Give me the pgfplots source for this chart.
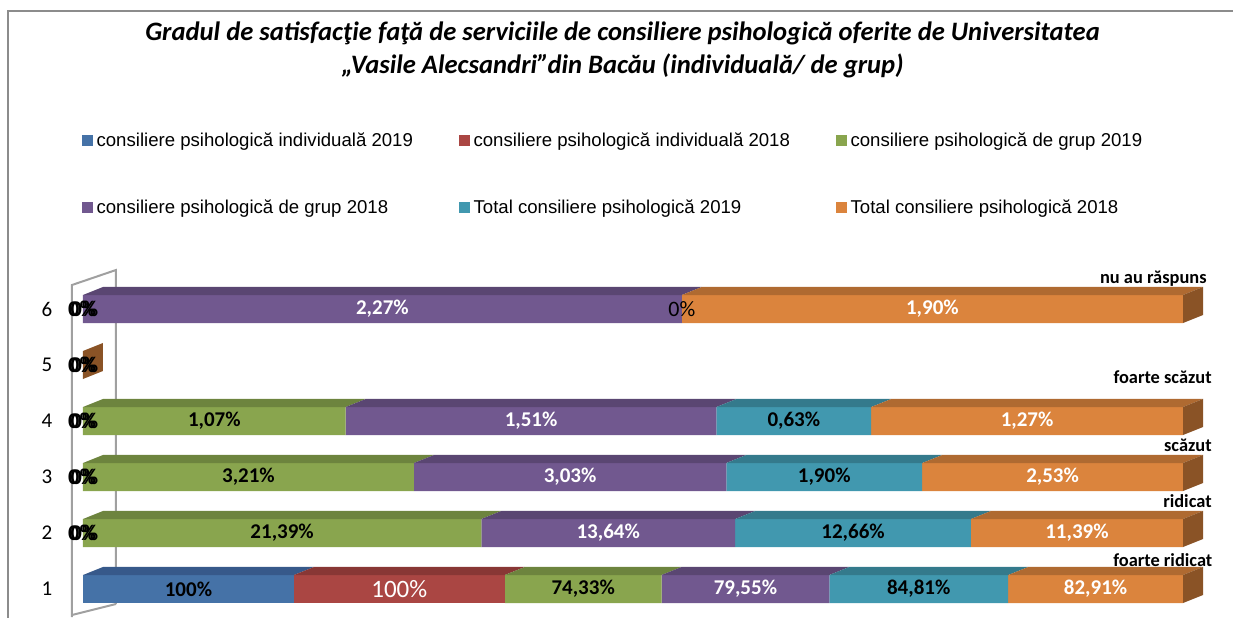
\documentclass[border=0pt]{standalone}
\usepackage{pgfplots}
\pgfplotsset{compat=1.18}
\usepackage{fontspec}
\setmainfont{Carlito}
\newfontfamily\arialf{Liberation Sans}
\definecolor{cblue}{HTML}{4572A7}
\definecolor{cred}{HTML}{AA4643}
\definecolor{cgreen}{HTML}{89A54E}
\definecolor{cpurple}{HTML}{71588F}
\definecolor{cteal}{HTML}{4198AF}
\definecolor{corange}{HTML}{DB843D}
\definecolor{tblue}{HTML}{37598A}
\definecolor{tred}{HTML}{883735}
\definecolor{tgreen}{HTML}{6D843E}
\definecolor{tpurple}{HTML}{5A4672}
\definecolor{tteal}{HTML}{347A8C}
\definecolor{torange}{HTML}{AF6A31}
\definecolor{sorange}{HTML}{8A5326}
\definecolor{wallc}{HTML}{A0A0A0}
\definecolor{framec}{HTML}{8C8C8C}
\begin{document}
\begin{tikzpicture}
\useasboundingbox (-41.5pt,0pt) rectangle (575pt,308.5pt);
\draw[framec, line width=1pt] (-37.25pt,-20pt) rectangle (650pt,302.75pt);
\draw[wallc, line width=1pt] (-5.5pt,0pt) -- (-5.5pt,166pt) -- (16.5pt,173.5pt) -- (16.5pt,6.5pt);
\draw[wallc, line width=1pt] (-5.5pt,1pt) -- (16.5pt,6.5pt);
\node[font=\bfseries\itshape\fontsize{13.3}{16}\selectfont, anchor=base, inner sep=0pt] at (269.75pt,288pt) {Gradul de satisfacţie faţă de serviciile de consiliere psihologică oferite de Universitatea};
\node[font=\bfseries\itshape\fontsize{13.3}{16}\selectfont, anchor=base, inner sep=0pt] at (269.75pt,271.5pt) {„Vasile Alecsandri”din Bacău (individuală/ de grup)};

% front bars (values normalised to 100% per row)
\begin{axis}[
  at={(0pt,0pt)}, anchor=south west,
  width=550pt, height=168pt, scale only axis,
  xmin=0, xmax=100, ymin=0.5, ymax=6.5,
  xbar stacked, bar width=14pt,
  axis line style={draw=none}, tick style={draw=none},
  xtick=\empty, ytick={1,2,3,4,5,6},
  /pgf/number format/assume math mode=true,
  yticklabel style={anchor=center, xshift=-18pt, font=\fontsize{10.5}{12}\selectfont},
  legend columns=3,
  legend image code/.code={\fill[#1] (0pt,-2.75pt) rectangle (5.5pt,2.75pt);},
  legend style={draw=none, fill=none, inner sep=0pt, outer sep=0pt,
    at={(-0.0009,1.4426)}, anchor=north west,
    font=\arialf\fontsize{9.3}{11}\selectfont,
    column sep=0pt, row sep=25.3pt,
    nodes={inner sep=0pt},
    /tikz/every odd column/.append style={column sep=1.8pt}},
]
\addplot[fill=cblue, draw=none] coordinates {(19.172,1) (0,2) (0,3) (0,4) (0,5) (0,6)};
\addlegendentry{\makebox[181.2pt][l]{consiliere psihologică individuală 2019}}
\addplot[fill=cred, draw=none] coordinates {(19.172,1) (0,2) (0,3) (0,4) (0,5) (0,6)};
\addlegendentry{\makebox[181.2pt][l]{consiliere psihologică individuală 2018}}
\addplot[fill=cgreen, draw=none] coordinates {(14.250,1) (36.205,2) (30.084,3) (23.884,4) (0,5) (0,6)};
\addlegendentry{\makebox[181.2pt][l]{consiliere psihologică de grup 2019}}
\addplot[fill=cpurple, draw=none] coordinates {(15.251,1) (23.087,2) (28.397,3) (33.705,4) (0,5) (54.436,6)};
\addlegendentry{\makebox[181.2pt][l]{consiliere psihologică de grup 2018}}
\addplot[fill=cteal, draw=none] coordinates {(16.260,1) (21.429,2) (17.807,3) (14.063,4) (0,5) (0,6)};
\addlegendentry{\makebox[181.2pt][l]{Total consiliere psihologică 2019}}
\addplot[fill=corange, draw=none] coordinates {(15.895,1) (19.279,2) (23.711,3) (28.348,4) (0,5) (45.564,6)};
\addlegendentry{\makebox[181.2pt][l]{Total consiliere psihologică 2018}}
\end{axis}

% 3D faces and labels
\begin{axis}[
  at={(0pt,0pt)}, anchor=south west,
  width=550pt, height=168pt, scale only axis,
  xmin=0, xmax=100, ymin=0.5, ymax=6.5,
  hide axis, clip=false,
]
% top faces
\addplot[fill=tblue, draw=none] coordinates {(0,1.25) (19.172,1.25) (20.990,1.3929) (1.818,1.3929)} --cycle;
\addplot[fill=tred, draw=none] coordinates {(19.172,1.25) (38.344,1.25) (40.162,1.3929) (20.990,1.3929)} --cycle;
\addplot[fill=tgreen, draw=none] coordinates {(38.344,1.25) (52.594,1.25) (54.412,1.3929) (40.162,1.3929)} --cycle;
\addplot[fill=tgreen, draw=none] coordinates {(0,2.25) (36.205,2.25) (38.023,2.3929) (1.818,2.3929)} --cycle;
\addplot[fill=tgreen, draw=none] coordinates {(0,3.25) (30.084,3.25) (31.902,3.3929) (1.818,3.3929)} --cycle;
\addplot[fill=tgreen, draw=none] coordinates {(0,4.25) (23.884,4.25) (25.702,4.3929) (1.818,4.3929)} --cycle;
\addplot[fill=tpurple, draw=none] coordinates {(52.594,1.25) (67.845,1.25) (69.663,1.3929) (54.412,1.3929)} --cycle;
\addplot[fill=tpurple, draw=none] coordinates {(36.205,2.25) (59.292,2.25) (61.110,2.3929) (38.023,2.3929)} --cycle;
\addplot[fill=tpurple, draw=none] coordinates {(30.084,3.25) (58.481,3.25) (60.299,3.3929) (31.902,3.3929)} --cycle;
\addplot[fill=tpurple, draw=none] coordinates {(23.884,4.25) (57.589,4.25) (59.407,4.3929) (25.702,4.3929)} --cycle;
\addplot[fill=tpurple, draw=none] coordinates {(0,6.25) (54.436,6.25) (56.254,6.3929) (1.818,6.3929)} --cycle;
\addplot[fill=tteal, draw=none] coordinates {(67.845,1.25) (84.105,1.25) (85.923,1.3929) (69.663,1.3929)} --cycle;
\addplot[fill=tteal, draw=none] coordinates {(59.292,2.25) (80.721,2.25) (82.539,2.3929) (61.110,2.3929)} --cycle;
\addplot[fill=tteal, draw=none] coordinates {(58.481,3.25) (76.288,3.25) (78.106,3.3929) (60.299,3.3929)} --cycle;
\addplot[fill=tteal, draw=none] coordinates {(57.589,4.25) (71.652,4.25) (73.470,4.3929) (59.407,4.3929)} --cycle;
\addplot[fill=torange, draw=none] coordinates {(84.105,1.25) (100,1.25) (101.818,1.3929) (85.923,1.3929)} --cycle;
\addplot[fill=torange, draw=none] coordinates {(80.721,2.25) (100,2.25) (101.818,2.3929) (82.539,2.3929)} --cycle;
\addplot[fill=torange, draw=none] coordinates {(76.288,3.25) (100,3.25) (101.818,3.3929) (78.106,3.3929)} --cycle;
\addplot[fill=torange, draw=none] coordinates {(71.652,4.25) (100,4.25) (101.818,4.3929) (73.470,4.3929)} --cycle;
\addplot[fill=torange, draw=none] coordinates {(54.436,6.25) (100,6.25) (101.818,6.3929) (56.254,6.3929)} --cycle;
% side faces
\addplot[fill=sorange, draw=none] coordinates {(100,0.75) (100,1.25) (101.818,1.3929) (101.818,0.8929)} --cycle;
\addplot[fill=sorange, draw=none] coordinates {(100,1.75) (100,2.25) (101.818,2.3929) (101.818,1.8929)} --cycle;
\addplot[fill=sorange, draw=none] coordinates {(100,2.75) (100,3.25) (101.818,3.3929) (101.818,2.8929)} --cycle;
\addplot[fill=sorange, draw=none] coordinates {(100,3.75) (100,4.25) (101.818,4.3929) (101.818,3.8929)} --cycle;
\addplot[fill=sorange, draw=none] coordinates {(0,4.75) (0,5.25) (1.818,5.3929) (1.818,4.8929)} --cycle;
\addplot[fill=sorange, draw=none] coordinates {(100,5.75) (100,6.25) (101.818,6.3929) (101.818,5.8929)} --cycle;

% labels: black bold
\addplot[only marks, mark=none, point meta=explicit symbolic,
  nodes near coords={\pgfplotspointmeta\%},
  nodes near coords style={anchor=center, text=black, font=\bfseries\fontsize{10.5}{12}\selectfont}]
  table[meta=l] {
x y l
9.586 1 100
45.469 1 74,33
75.975 1 84,81
18.1025 2 21,39
70.0065 2 12,66
15.042 3 3,21
67.3845 3 1,90
11.942 4 1,07
64.6205 4 0,63
};
% zero labels of the first series, drawn twice with a small offset
\addplot[only marks, mark=none, point meta=explicit symbolic,
  nodes near coords={\pgfplotspointmeta\%},
  nodes near coords style={anchor=center, xshift=-0.5pt, text=black, font=\bfseries\fontsize{11.2}{13}\selectfont}]
  table[meta=l] {
x y l
0 2 0
0 3 0
0 4 0
0 5 0
0 6 0
};
\addplot[only marks, mark=none, point meta=explicit symbolic,
  nodes near coords={\pgfplotspointmeta\%},
  nodes near coords style={anchor=center, xshift=0.7pt, text=black, font=\bfseries\fontsize{11.2}{13}\selectfont}]
  table[meta=l] {
x y l
0 2 0
0 3 0
0 4 0
0 5 0
0 6 0
};
% white bold
\addplot[only marks, mark=none, point meta=explicit symbolic,
  nodes near coords={\pgfplotspointmeta\%},
  nodes near coords style={anchor=center, text=white, font=\bfseries\fontsize{10.5}{12}\selectfont}]
  table[meta=l] {
x y l
60.2195 1 79,55
92.0525 1 82,91
47.7485 2 13,64
90.3605 2 11,39
44.2825 3 3,03
88.144 3 2,53
40.7365 4 1,51
85.826 4 1,27
27.218 6 2,27
77.218 6 1,90
};
% white regular (individuala 2018)
\addplot[only marks, mark=none, point meta=explicit symbolic,
  nodes near coords={\pgfplotspointmeta\%},
  nodes near coords style={anchor=center, text=white, font=\fontsize{12.5}{14}\selectfont}]
  table[meta=l] {
x y l
28.758 1 100
};
% black regular (Total 2019, row 6)
\addplot[only marks, mark=none, point meta=explicit symbolic,
  nodes near coords={\pgfplotspointmeta\%},
  nodes near coords style={anchor=center, text=black, font=\fontsize{11}{12}\selectfont}]
  table[meta=l] {
x y l
54.436 6 0
};
% category names at the right
\node[anchor=east, inner sep=0pt, font=\bfseries\fontsize{9.2}{11}\selectfont] at (axis cs:102.7,1.509) {foarte ridicat};
\node[anchor=east, inner sep=0pt, font=\bfseries\fontsize{9.2}{11}\selectfont] at (axis cs:102.64,2.577) {ridicat};
\node[anchor=east, inner sep=0pt, font=\bfseries\fontsize{9.2}{11}\selectfont] at (axis cs:102.64,3.571) {scăzut};
\node[anchor=east, inner sep=0pt, font=\bfseries\fontsize{9.2}{11}\selectfont] at (axis cs:102.64,4.786) {foarte scăzut};
\node[anchor=east, inner sep=0pt, font=\bfseries\fontsize{9.2}{11}\selectfont] at (axis cs:102.18,6.536) {nu au răspuns};
\end{axis}
\end{tikzpicture}
\end{document}
